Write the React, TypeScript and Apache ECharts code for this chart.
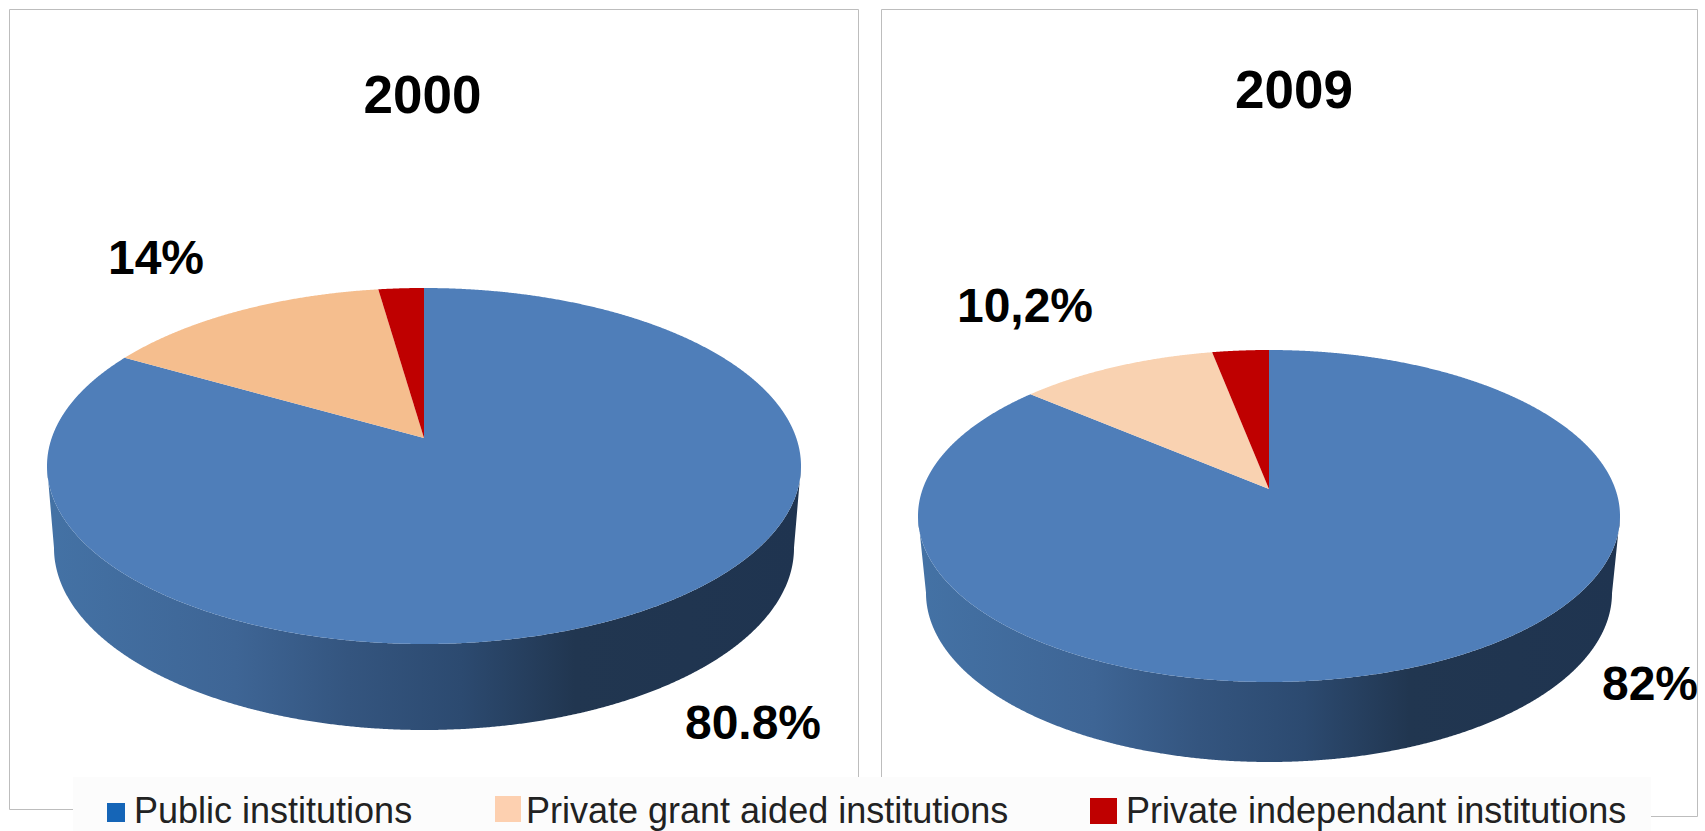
import React, { useEffect, useRef } from "react";
import * as echarts from "echarts";

const categories = ["Public institutions", "Private grant aided institutions", "Private independant institutions"];
const years = ["2000", "2009"];
const values2000 = [80.8, 14, 2.2];
const values2009 = [82, 10.2, 2.9];
const labels2000 = ["80.8%", "14%"];
const labels2009 = ["82%", "10,2%"];

const FONT = '"Liberation Sans", Arial, sans-serif';
const BLUE = "#4f7eb9";
const RED = "#bf0000";

type Pie = {
  cx: number; cy: number; rx: number; ry: number; apexY: number;
  cxB: number; cyB: number; rxB: number; ryB: number; peach: string;
};
const pie2000: Pie = { cx: 424, cy: 466, rx: 377, ry: 178, apexY: 438, cxB: 424, cyB: 548, rxB: 370, ryB: 182, peach: "#f5be8e" };
const pie2009: Pie = { cx: 1269, cy: 516, rx: 351, ry: 166, apexY: 489, cxB: 1269, cyB: 593, rxB: 343, ryB: 169, peach: "#f9d2b1" };

// Perspective: a disc automorphism moving the disc centre to the apex, keeping the rim on the ellipse.
function rim(theta: number, a: number): [number, number] {
  const x = Math.sin(theta);
  const y = -Math.cos(theta);
  const d = 1 + a * y;
  return [(x * Math.sqrt(1 - a * a)) / d, (y + a) / d];
}

function sliceBounds(values: number[], i: number): [number, number] {
  const total = values.reduce((s, v) => s + v, 0);
  const before = values.slice(0, i).reduce((s, v) => s + v, 0);
  return [(before / total) * 2 * Math.PI, ((before + values[i]) / total) * 2 * Math.PI];
}

function sideSeries(name: string, values: number[], pie: Pie) {
  const a = (pie.apexY - pie.cy) / pie.ry;
  return {
    type: "custom", name, coordinateSystem: "none", silent: true, z: 2,
    data: values,
    renderItem: (params: any) => {
      const [t0, t1] = sliceBounds(values, params.dataIndex);
      const top: number[][] = [];
      const bottom: number[][] = [];
      const n = Math.max(2, Math.ceil((t1 - t0) / 0.004));
      for (let k = 0; k <= n; k++) {
        const [u, v] = rim(t0 + ((t1 - t0) * k) / n, a);
        if (v < -0.002) continue;
        top.push([pie.cx + u * pie.rx, pie.cy + v * pie.ry]);
        bottom.push([pie.cxB + u * pie.rxB, pie.cyB + v * pie.ryB]);
      }
      if (top.length < 2) return { type: "group", children: [] };
      return {
        type: "polygon",
        shape: { points: [...top, ...bottom.reverse()] },
        style: {
          fill: new echarts.graphic.LinearGradient(0, 0, 1, 0, [
            { offset: 0, color: "#4472a5" },
            { offset: 0.25, color: "#3e6595" },
            { offset: 0.4, color: "#34557f" },
            { offset: 0.55, color: "#2c4a70" },
            { offset: 0.7, color: "#213650" },
            { offset: 1, color: "#1f3450" },
          ]),
        },
      };
    },
  };
}

function topSeries(name: string, values: number[], pie: Pie) {
  const a = (pie.apexY - pie.cy) / pie.ry;
  const colors = [BLUE, pie.peach, RED];
  return {
    type: "custom", name, coordinateSystem: "none", silent: true, z: 3,
    data: values,
    renderItem: (params: any) => {
      const [t0, t1] = sliceBounds(values, params.dataIndex);
      const pts: number[][] = [[pie.cx, pie.apexY]];
      const n = Math.max(4, Math.ceil((t1 - t0) / 0.004));
      for (let k = 0; k <= n; k++) {
        const [u, v] = rim(t0 + ((t1 - t0) * k) / n, a);
        pts.push([pie.cx + u * pie.rx, pie.cy + v * pie.ry]);
      }
      return { type: "polygon", shape: { points: pts }, style: { fill: colors[params.dataIndex] } };
    },
  };
}

function dataLabel(text: string, x: number, y: number) {
  return {
    type: "text", z: 20, silent: true,
    style: { text, x, y, fill: "#000", font: `bold 48px ${FONT}`, textAlign: "center", textVerticalAlign: "middle" },
  };
}

const legendMarks = [
  { x: 107, y: 803, w: 18, h: 19, color: "#1565b7", tx: 134, fontSize: 36 },
  { x: 495, y: 796, w: 26, h: 26, color: "#fdd0b0", tx: 526, fontSize: 36 },
  { x: 1090, y: 798, w: 27, h: 26, color: RED, tx: 1126, fontSize: 36 },
];

export default function App() {
  const ref = useRef<HTMLDivElement>(null);
  useEffect(() => {
    document.body.style.margin = "0";
    const chart = echarts.init(ref.current!, null, { renderer: "svg" });
    chart.setOption({
      animation: false,
      backgroundColor: "#ffffff",
      title: [
        { text: years[0], left: 417.5, top: 89, textAlign: "center", textVerticalAlign: "middle",
          textStyle: { fontFamily: FONT, fontWeight: "bold", fontSize: 53, color: "#000" } },
        { text: years[1], left: 1289, top: 84.5, textAlign: "center", textVerticalAlign: "middle",
          textStyle: { fontFamily: FONT, fontWeight: "bold", fontSize: 53, color: "#000" } },
      ],
      series: [
        sideSeries("2000 side", values2000, pie2000),
        topSeries("2000", values2000, pie2000),
        sideSeries("2009 side", values2009, pie2009),
        topSeries("2009", values2009, pie2009),
      ],
      graphic: [
        { type: "rect", z: 0, silent: true, shape: { x: 9.5, y: 9.5, width: 849, height: 800 }, style: { fill: "none", stroke: "#bdbdbd", lineWidth: 1 } },
        { type: "rect", z: 0, silent: true, shape: { x: 881.5, y: 9.5, width: 816, height: 807 }, style: { fill: "none", stroke: "#bdbdbd", lineWidth: 1 } },
        { type: "rect", z: 10, silent: true, shape: { x: 73, y: 777, width: 1578, height: 54 }, style: { fill: "#fcfcfc" } },
        ...legendMarks.map((m) => ({ type: "rect", z: 11, silent: true, shape: { x: m.x, y: m.y, width: m.w, height: m.h }, style: { fill: m.color } })),
        ...legendMarks.map((m, i) => ({
          type: "text", z: 11, silent: true,
          style: { text: categories[i], x: m.tx, y: 828, fill: "#222", font: `${m.fontSize}px ${FONT}`, textAlign: "left", textVerticalAlign: "bottom" },
        })),
        dataLabel(labels2000[1], 156, 257),
        dataLabel(labels2000[0], 753, 722),
        dataLabel(labels2009[1], 1025, 305),
        dataLabel(labels2009[0], 1650, 683),
      ],
    });
    return () => chart.dispose();
  }, []);
  return <div ref={ref} style={{ width: 1705, height: 831 }} />;
}
